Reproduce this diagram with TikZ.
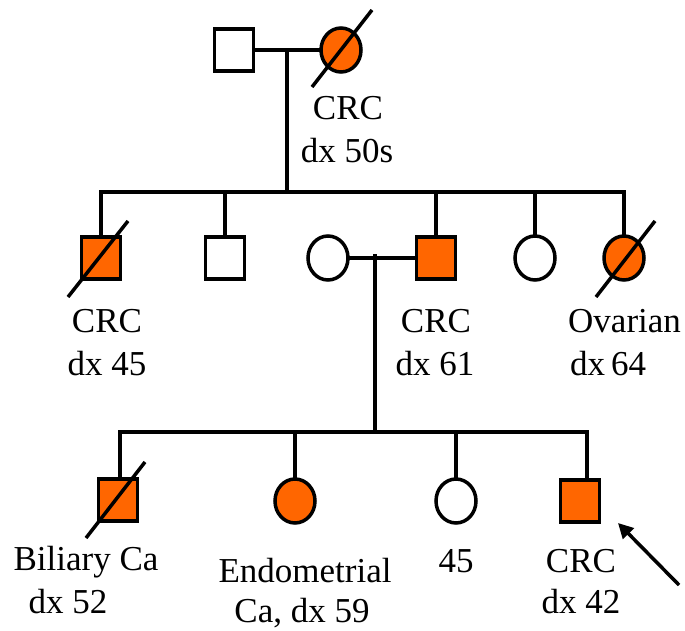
\documentclass[tikz,border=0pt]{standalone}
\usepackage{fontspec}
\setmainfont{Liberation Serif}
\usetikzlibrary{shapes.geometric,arrows.meta,calc}
\definecolor{aff}{HTML}{FF6600}
\tikzset{
  ln/.style={line width=3.5pt,line cap=rect},
  male/.style={draw,line width=3.5pt,rectangle,minimum width=39pt,minimum height=42pt,inner sep=0pt},
  female/.style={draw,line width=3.5pt,ellipse,minimum width=40pt,minimum height=44pt,inner sep=0pt},
  hit/.style={fill=aff},
  lbl/.style={font=\fontsize{35}{42}\selectfont,inner sep=0pt,anchor=base},
  lbll/.style={font=\fontsize{35}{42}\selectfont,inner sep=0pt,anchor=base west},
}
\begin{document}
\begin{tikzpicture}[x=1pt,y=-1pt]
\useasboundingbox (0,0) rectangle (685,631);
% Generation I
\node[male] (g1m) at (234,50) {};
\node[female,hit] (g1f) at (341,50) {};
\draw[ln] (g1m.east) -- (g1f.west);
\coordinate (m1) at (287,50);
\coordinate (s1) at (287,192);
\draw[ln] (m1) -- (s1);
\draw[line width=3.5pt] ($(g1f)+(-29,37)$) -- ($(g1f)+(31,-40)$);
\node[lbl] (t1a) at (348,120) {CRC};
\node[lbl] (t1b) at (347,163) {dx 50s};
% Generation II
\node[male,hit] (a) at (101,258) {};
\node[male] (b) at (225,258) {};
\node[female] (w) at (328,258) {};
\node[male,hit] (c) at (436,258) {};
\node[female] (d) at (535,258) {};
\node[female,hit] (e) at (624,258) {};
\coordinate (sl) at (101,192);
\coordinate (sr) at (624,192);
\draw[ln] (a.north) -- (sl) -- (sr) -- (e.north);
\draw[ln] (b.north) -- (b.north |- s1);
\draw[ln] (c.north) -- (c.north |- s1);
\draw[ln] (d.north) -- (d.north |- s1);
\draw[line width=3.5pt] ($(a)+(-33,39)$) -- ($(a)+(27,-37)$);
\draw[line width=3.5pt] ($(e)+(-28,39)$) -- ($(e)+(31,-37)$);
\draw[ln] (w.east) -- (c.west);
\coordinate (m2) at (375,256);
\coordinate (s2) at (375,432);
\draw[ln] (m2) -- (s2);
\node[lbl] (t2a) at (107,332) {CRC};
\node[lbl] (t2b) at (107,375) {dx 45};
\node[lbl] (t3a) at (436,332) {CRC};
\node[lbl] (t3b) at (435,375) {dx 61};
\node[lbll] (t4a) at (568,332) {Ovarian};
\node[lbll] (t4b) at (570,375) {dx\,64};
% Generation III
\node[male,hit] (f) at (118,500) {};
\node[female,hit] (g) at (295,501) {};
\node[female] (h) at (456,501) {};
\node[male,hit] (k) at (580,501) {};
\coordinate (tl) at (120,432);
\coordinate (tr) at (587,432);
\draw[ln] (120,478) -- (tl) -- (tr) -- (587,478);
\draw[ln] (g.north) -- (g.north |- s2);
\draw[ln] (h.north) -- (h.north |- s2);
\draw[line width=3.5pt] ($(f)+(-32,38)$) -- ($(f)+(27,-38)$);
\node[lbl] (t5a) at (86,570) {Biliary Ca};
\node[lbl] (t5b) at (68,613) {dx 52};
\node[lbl] (t6a) at (305,582) {Endometrial};
\node[lbl] (t6b) at (302,622) {Ca, dx 59};
\node[lbl] (t7) at (456,572) {45};
\node[lbl] (t8a) at (581,572) {CRC};
\node[lbl] (t8b) at (581,613) {dx 42};
% proband arrow
\coordinate (ptail) at (679,585);
\coordinate (ptip) at (618,523);
\draw[line width=3.5pt,-{Triangle[length=15pt,width=15pt]}] (ptail) -- (ptip);
\end{tikzpicture}
\end{document}
